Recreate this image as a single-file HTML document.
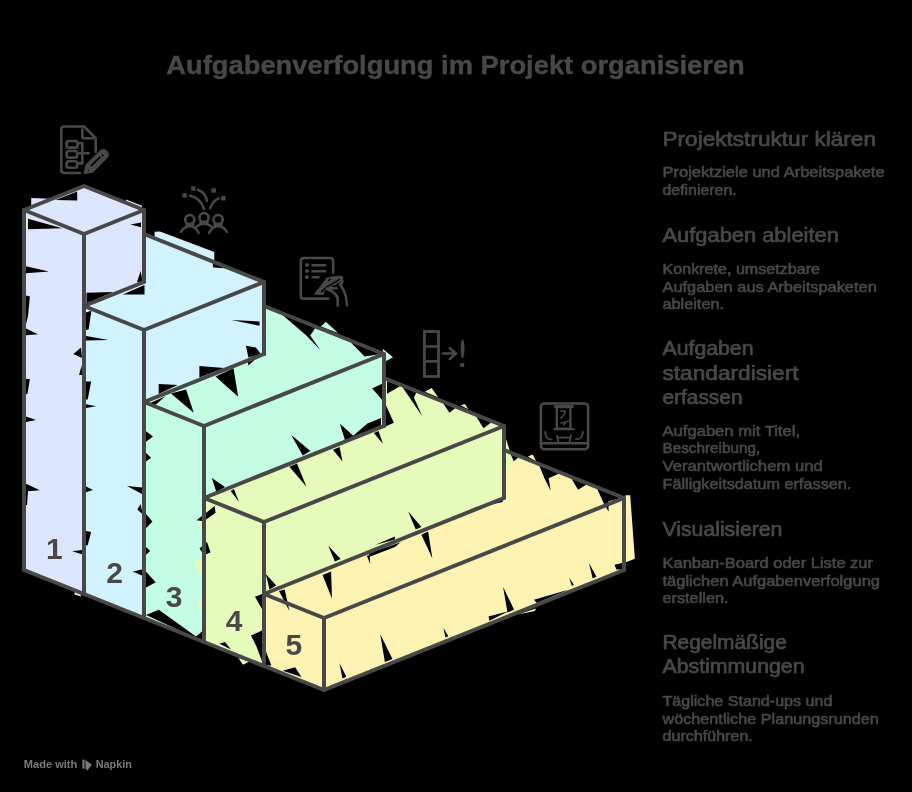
<!DOCTYPE html>
<html><head><meta charset="utf-8"><title>Aufgabenverfolgung im Projekt organisieren</title>
<style>
html,body{margin:0;padding:0;background:#000;}
svg{display:block;will-change:transform;}
text{font-family:"Liberation Sans",sans-serif;fill:#484848;}
.title{font-size:25px;font-weight:bold;stroke:#484848;stroke-width:0.4px;}
.h{font-size:20px;stroke:#484848;stroke-width:0.7px;}
.b{font-size:15px;stroke:#484848;stroke-width:0.6px;}
.num{font-size:30px;font-weight:bold;}
.foot{font-size:11px;font-weight:bold;fill:#7a7a7a;}
</style></head><body>
<svg width="912" height="792" viewBox="0 0 912 792">
<rect width="912" height="792" fill="#000"/>
<polygon points="24.0,210.0 84.0,234.0 144.0,210.0 84.0,186.0" fill="#dde6ff"/>
<polygon points="24.0,570.0 84.0,594.0 84.0,234.0 24.0,210.0" fill="#dde6ff"/>
<polygon points="84.0,234.0 144.0,210.0 144.0,282.0 84.0,306.0" fill="#dde6ff"/>
<polygon points="84.0,306.0 144.0,330.0 264.0,282.0 144.0,234.0 144.0,282.0" fill="#d1f3ff"/>
<polygon points="84.0,594.0 144.0,618.0 144.0,330.0 84.0,306.0" fill="#d1f3ff"/>
<polygon points="144.0,330.0 264.0,282.0 264.0,354.0 144.0,402.0" fill="#d1f3ff"/>
<polygon points="144.0,402.0 204.0,426.0 384.0,354.0 264.0,306.0 264.0,354.0" fill="#c3fde4"/>
<polygon points="144.0,618.0 204.0,642.0 204.0,426.0 144.0,402.0" fill="#c3fde4"/>
<polygon points="204.0,426.0 384.0,354.0 384.0,426.0 204.0,498.0" fill="#c3fde4"/>
<polygon points="204.0,498.0 264.0,522.0 504.0,426.0 384.0,378.0 384.0,426.0" fill="#e6fbb9"/>
<polygon points="204.0,642.0 264.0,666.0 264.0,522.0 204.0,498.0" fill="#e6fbb9"/>
<polygon points="264.0,522.0 504.0,426.0 504.0,498.0 264.0,594.0" fill="#e6fbb9"/>
<polygon points="264.0,594.0 324.0,618.0 624.0,498.0 504.0,450.0 504.0,498.0" fill="#fef3b3"/>
<polygon points="264.0,666.0 324.0,690.0 324.0,618.0 264.0,594.0" fill="#fef3b3"/>
<polygon points="324.0,618.0 624.0,498.0 624.0,570.0 324.0,690.0" fill="#fef3b3"/>
<polygon points="31.2,198.0 55.5,198.9 31.2,207.6" fill="#dde6ff"/>
<polygon points="26.0,212.0 30.0,213.0 30.0,218.8 26.0,218.8" fill="#dde6ff"/>
<polygon points="154.6,231.7 160.0,231.5 214.3,252.0 214.3,262.0 154.6,238.5" fill="#d1f3ff"/>
<polygon points="321.0,326.4 325.8,321.8 338.1,333.0" fill="#c3fde4"/>
<polygon points="382.6,348.7 393.0,357.2 386.4,361.0 384.0,356.0" fill="#c3fde4"/>
<polygon points="424.9,391.8 431.6,388.0 438.2,397.3" fill="#e6fbb9"/>
<polygon points="460.9,405.6 464.7,404.0 468.5,409.2" fill="#e6fbb9"/>
<polygon points="505.0,435.8 509.2,449.0 513.9,468.0 505.0,469.8" fill="#e6fbb9"/>
<polygon points="506.1,453.7 514.6,461.3 506.1,469.8" fill="#e6fbb9"/>
<polygon points="197.6,521.2 203.0,521.2 207.0,544.0 201.4,532.6" fill="#e6fbb9"/>
<polygon points="194.7,560.8 203.0,558.9 203.0,580.7 197.6,570.3" fill="#e6fbb9"/>
<polygon points="197.6,602.5 203.0,600.6 203.0,619.5" fill="#e6fbb9"/>
<polygon points="238.3,658.0 249.4,661.5 243.0,664.7" fill="#e6fbb9"/>
<polygon points="527.9,456.5 532.6,454.6 536.4,461.6" fill="#fef3b3"/>
<polygon points="625.4,495.3 630.2,495.3 634.9,558.8 625.4,562.6" fill="#fef3b3"/>
<polygon points="517.9,614.5 535.9,608.4 534.9,611.0" fill="#fef3b3"/>
<polygon points="74.5,592.0 80.9,594.6 80.9,596.4 74.5,594.4" fill="#dde6ff"/>
<polygon points="126.0,199.4 142.0,205.8 142.0,208.0 126.0,201.6" fill="#dde6ff"/>
<polygon points="55.5,199.9 77.2,191.4 77.2,200.5" fill="#000"/>
<polygon points="28.0,218.8 62.1,228.3 28.0,229.2" fill="#000"/>
<polygon points="26.0,266.2 48.8,271.5 26.0,273.2" fill="#000"/>
<polygon points="26.0,295.5 29.9,296.5 28.0,316.0 26.0,324.0" fill="#000"/>
<polygon points="130.3,224.5 141.0,222.6 141.0,227.3" fill="#000"/>
<polygon points="136.9,282.3 140.7,270.9 142.6,282.3" fill="#000"/>
<polygon points="86.5,292.7 113.2,292.1 86.5,303.6" fill="#000"/>
<polygon points="122.7,294.6 144.5,285.0 144.5,294.6" fill="#000"/>
<polygon points="86.0,312.6 91.4,310.7 88.6,329.6 86.0,330.0" fill="#000"/>
<polygon points="26.0,328.5 38.0,334.2 26.0,335.2" fill="#000"/>
<polygon points="26.0,378.7 29.9,379.1 27.4,393.9 26.0,394.0" fill="#000"/>
<polygon points="26.0,416.6 36.1,420.0 26.0,421.9" fill="#000"/>
<polygon points="73.4,354.1 81.0,347.5 82.0,357.9" fill="#000"/>
<polygon points="79.1,374.9 81.6,365.5 82.2,374.9" fill="#000"/>
<polygon points="86.0,336.1 108.5,339.9 86.0,340.5" fill="#000"/>
<polygon points="86.0,381.6 91.1,381.6 87.7,399.5 86.0,399.5" fill="#000"/>
<polygon points="86.0,404.3 96.2,406.2 86.0,408.1" fill="#000"/>
<polygon points="26.0,483.7 39.9,490.3 28.0,491.3 27.0,505.0 26.0,505.0" fill="#000"/>
<polygon points="86.0,486.5 93.0,489.9 86.0,492.2" fill="#000"/>
<polygon points="86.0,531.0 91.1,532.0 87.7,545.2 86.0,545.2" fill="#000"/>
<polygon points="72.1,551.3 82.0,550.0 82.0,554.3" fill="#000"/>
<polygon points="127.0,486.1 142.0,487.5 142.0,494.1" fill="#000"/>
<polygon points="137.3,509.6 140.7,503.9 142.4,514.0" fill="#000"/>
<polygon points="132.7,571.4 142.0,569.5 142.0,575.5" fill="#000"/>
<polygon points="146.0,431.3 153.0,436.4 146.0,441.7" fill="#000"/>
<polygon points="146.0,453.1 151.1,457.8 146.0,461.6" fill="#000"/>
<polygon points="146.0,514.0 152.4,521.6 146.0,528.2" fill="#000"/>
<polygon points="146.0,547.1 150.2,550.9 146.0,554.7" fill="#000"/>
<polygon points="146.0,571.7 155.8,582.2 146.0,587.5" fill="#000"/>
<polygon points="146.0,615.0 158.8,609.7 196.0,636.5 202.0,631.5 202.4,641.0" fill="#000"/>
<polygon points="212.4,263.0 228.5,268.6 213.3,267.6" fill="#000"/>
<polygon points="231.3,320.1 259.5,321.4 259.5,325.8" fill="#000"/>
<polygon points="245.9,345.7 255.9,347.6 261.0,354.2 248.4,357.6" fill="#000"/>
<polygon points="158.7,384.0 177.6,384.9 158.7,394.0" fill="#000"/>
<polygon points="199.4,366.0 224.0,367.9 199.4,377.4" fill="#000"/>
<polygon points="171.0,393.4 186.1,389.6 193.7,412.8" fill="#000"/>
<polygon points="146.4,404.8 165.3,396.3 155.8,404.8" fill="#000"/>
<polygon points="215.5,376.4 233.5,368.2 238.2,396.7" fill="#000"/>
<polygon points="247.7,362.2 256.2,358.4 248.6,365.6" fill="#000"/>
<polygon points="281.3,314.0 315.3,328.0 310.2,335.5 320.1,349.7 305.8,335.0" fill="#000"/>
<polygon points="350.4,342.0 381.0,354.0 364.6,356.6" fill="#000"/>
<polygon points="372.2,388.5 382.0,383.8 382.0,399.8" fill="#000"/>
<polygon points="340.0,424.1 353.2,435.8 367.4,423.5 381.0,418.2 381.0,425.4 345.0,440.2" fill="#000"/>
<polygon points="357.0,434.1 368.4,423.7 381.0,418.0 381.0,425.0" fill="#000"/>
<polygon points="211.8,478.0 225.0,487.1 216.4,492.0" fill="#000"/>
<polygon points="291.3,435.0 310.3,451.1 302.7,455.5" fill="#000"/>
<polygon points="340.2,424.2 350.0,433.1 345.3,438.4" fill="#000"/>
<polygon points="386.0,405.5 393.9,422.7 386.0,426.3" fill="#000"/>
<polygon points="373.8,432.9 378.5,431.0 382.9,443.7" fill="#000"/>
<polygon points="387.0,381.0 400.3,386.0 387.0,393.7" fill="#000"/>
<polygon points="402.2,386.8 416.4,392.6 413.9,397.5 422.1,415.9" fill="#000"/>
<polygon points="442.9,403.0 455.2,408.0 449.5,412.7" fill="#000"/>
<polygon points="476.1,416.4 491.2,422.4 483.6,428.2" fill="#000"/>
<polygon points="238.9,501.9 230.7,490.9 233.9,489.0" fill="#000"/>
<polygon points="306.5,486.7 289.4,466.8 297.0,463.6" fill="#000"/>
<polygon points="342.5,461.6 333.0,449.8 339.6,447.0" fill="#000"/>
<polygon points="204.0,514.5 214.6,506.1 215.6,512.7 204.0,521.0" fill="#000"/>
<polygon points="196.6,520.3 202.0,516.0 202.0,521.0" fill="#000"/>
<polygon points="199.5,548.5 207.0,541.9 210.5,552.3 204.2,555.2" fill="#000"/>
<polygon points="255.0,596.8 262.0,594.0 262.0,609.1" fill="#000"/>
<polygon points="251.0,635.6 262.0,630.5 262.0,661.2 256.3,646.1" fill="#000"/>
<polygon points="219.4,643.8 225.0,641.9 231.0,649.5" fill="#000"/>
<polygon points="408.2,511.6 421.4,527.1 415.8,529.5" fill="#000"/>
<polygon points="265.8,574.1 276.2,585.5 269.5,589.6" fill="#000"/>
<polygon points="328.3,545.7 340.6,558.9 334.9,561.4" fill="#000"/>
<polygon points="375.0,544.9 394.9,536.4 394.9,539.6" fill="#000"/>
<polygon points="469.4,509.6 502.6,498.6 502.6,502.0" fill="#000"/>
<polygon points="432.4,558.4 421.4,534.7 428.1,531.5" fill="#000"/>
<polygon points="289.4,611.0 279.0,591.1 284.7,589.6" fill="#000"/>
<polygon points="332.0,598.7 322.6,575.0 331.1,571.6" fill="#000"/>
<polygon points="368.4,553.6 400.6,542.3 395.0,547.0 370.3,556.5" fill="#000"/>
<polygon points="370.2,564.2 366.9,555.7 369.7,555.0" fill="#000"/>
<polygon points="510.8,454.4 518.4,457.4 513.7,461.3" fill="#000"/>
<polygon points="539.2,465.4 559.1,473.4 548.7,478.3 550.6,490.6 544.9,479.2" fill="#000"/>
<polygon points="571.4,478.4 586.6,484.4 578.1,489.7" fill="#000"/>
<polygon points="597.0,488.6 620.7,498.0 608.4,501.6 608.6,511.6 603.6,502.9" fill="#000"/>
<polygon points="266.0,651.7 271.4,665.6 266.0,665.6" fill="#000"/>
<polygon points="282.8,670.7 295.1,667.3 301.4,677.0" fill="#000"/>
<polygon points="339.4,663.1 346.3,676.7 342.5,678.6" fill="#000"/>
<polygon points="380.2,634.3 392.5,658.9 384.9,662.0" fill="#000"/>
<polygon points="443.3,627.7 448.4,636.2 445.5,637.4" fill="#000"/>
<polygon points="503.1,587.0 514.1,609.7 507.5,612.4" fill="#000"/>
<polygon points="488.5,616.5 508.4,611.2 489.5,620.7" fill="#000"/>
<polygon points="534.0,599.8 569.0,589.4 536.8,602.9" fill="#000"/>
<polygon points="569.0,577.5 573.8,584.7 571.9,585.9" fill="#000"/>
<polygon points="588.9,562.9 596.5,576.7 592.7,578.4" fill="#000"/>
<polygon points="614.5,564.8 622.0,562.9 622.0,569.5 616.4,569.5" fill="#000"/>
<polyline points="24.0,210.0 84.0,234.0 144.0,210.0 84.0,186.0 24.0,210.0" fill="none" stroke="#484848" stroke-width="4" stroke-linecap="round" stroke-linejoin="round"/>
<polyline points="24.0,210.0 24.0,570.0" fill="none" stroke="#484848" stroke-width="4" stroke-linecap="round" stroke-linejoin="round"/>
<polyline points="84.0,234.0 84.0,594.0" fill="none" stroke="#484848" stroke-width="4" stroke-linecap="round" stroke-linejoin="round"/>
<polyline points="24.0,570.0 84.0,594.0" fill="none" stroke="#484848" stroke-width="4" stroke-linecap="round" stroke-linejoin="round"/>
<polyline points="144.0,210.0 144.0,282.0" fill="none" stroke="#484848" stroke-width="4" stroke-linecap="round" stroke-linejoin="round"/>
<polyline points="84.0,306.0 144.0,282.0" fill="none" stroke="#484848" stroke-width="4" stroke-linecap="round" stroke-linejoin="round"/>
<polyline points="84.0,306.0 144.0,330.0 264.0,282.0 144.0,234.0" fill="none" stroke="#484848" stroke-width="4" stroke-linecap="round" stroke-linejoin="round"/>
<polyline points="144.0,330.0 144.0,618.0" fill="none" stroke="#484848" stroke-width="4" stroke-linecap="round" stroke-linejoin="round"/>
<polyline points="84.0,594.0 144.0,618.0" fill="none" stroke="#484848" stroke-width="4" stroke-linecap="round" stroke-linejoin="round"/>
<polyline points="264.0,282.0 264.0,354.0" fill="none" stroke="#484848" stroke-width="4" stroke-linecap="round" stroke-linejoin="round"/>
<polyline points="144.0,402.0 264.0,354.0" fill="none" stroke="#484848" stroke-width="4" stroke-linecap="round" stroke-linejoin="round"/>
<polyline points="144.0,402.0 204.0,426.0 384.0,354.0 264.0,306.0" fill="none" stroke="#484848" stroke-width="4" stroke-linecap="round" stroke-linejoin="round"/>
<polyline points="204.0,426.0 204.0,642.0" fill="none" stroke="#484848" stroke-width="4" stroke-linecap="round" stroke-linejoin="round"/>
<polyline points="144.0,618.0 204.0,642.0" fill="none" stroke="#484848" stroke-width="4" stroke-linecap="round" stroke-linejoin="round"/>
<polyline points="384.0,354.0 384.0,426.0" fill="none" stroke="#484848" stroke-width="4" stroke-linecap="round" stroke-linejoin="round"/>
<polyline points="204.0,498.0 384.0,426.0" fill="none" stroke="#484848" stroke-width="4" stroke-linecap="round" stroke-linejoin="round"/>
<polyline points="204.0,498.0 264.0,522.0 504.0,426.0 384.0,378.0" fill="none" stroke="#484848" stroke-width="4" stroke-linecap="round" stroke-linejoin="round"/>
<polyline points="264.0,522.0 264.0,666.0" fill="none" stroke="#484848" stroke-width="4" stroke-linecap="round" stroke-linejoin="round"/>
<polyline points="204.0,642.0 264.0,666.0" fill="none" stroke="#484848" stroke-width="4" stroke-linecap="round" stroke-linejoin="round"/>
<polyline points="504.0,426.0 504.0,498.0" fill="none" stroke="#484848" stroke-width="4" stroke-linecap="round" stroke-linejoin="round"/>
<polyline points="264.0,594.0 504.0,498.0" fill="none" stroke="#484848" stroke-width="4" stroke-linecap="round" stroke-linejoin="round"/>
<polyline points="264.0,594.0 324.0,618.0 624.0,498.0 504.0,450.0" fill="none" stroke="#484848" stroke-width="4" stroke-linecap="round" stroke-linejoin="round"/>
<polyline points="324.0,618.0 324.0,690.0" fill="none" stroke="#484848" stroke-width="4" stroke-linecap="round" stroke-linejoin="round"/>
<polyline points="264.0,666.0 324.0,690.0" fill="none" stroke="#484848" stroke-width="4" stroke-linecap="round" stroke-linejoin="round"/>
<polyline points="624.0,498.0 624.0,570.0" fill="none" stroke="#484848" stroke-width="4" stroke-linecap="round" stroke-linejoin="round"/>
<polyline points="324.0,690.0 624.0,570.0" fill="none" stroke="#484848" stroke-width="4" stroke-linecap="round" stroke-linejoin="round"/>
<text x="54.4" y="558.8" class="num" text-anchor="middle">1</text>
<text x="114.6" y="582.6" class="num" text-anchor="middle">2</text>
<text x="174.2" y="606.8" class="num" text-anchor="middle">3</text>
<text x="234.2" y="630.7" class="num" text-anchor="middle">4</text>
<text x="293.9" y="654.5" class="num" text-anchor="middle">5</text>
<text x="166.3" y="74" class="title" textLength="578.5" lengthAdjust="spacingAndGlyphs">Aufgabenverfolgung im Projekt organisieren</text>
<text x="662.5" y="146.4" class="h" textLength="213.5" lengthAdjust="spacingAndGlyphs">Projektstruktur klären</text>
<text x="662.5" y="177.3" class="b" textLength="222.1" lengthAdjust="spacingAndGlyphs">Projektziele und Arbeitspakete</text>
<text x="662.5" y="195.3" class="b" textLength="74.2" lengthAdjust="spacingAndGlyphs">definieren.</text>
<text x="662.5" y="242.2" class="h" textLength="176.3" lengthAdjust="spacingAndGlyphs">Aufgaben ableiten</text>
<text x="662.5" y="274.4" class="b" textLength="157.5" lengthAdjust="spacingAndGlyphs">Konkrete, umsetzbare</text>
<text x="662.5" y="292.0" class="b" textLength="214.3" lengthAdjust="spacingAndGlyphs">Aufgaben aus Arbeitspaketen</text>
<text x="662.5" y="308.8" class="b" textLength="61.5" lengthAdjust="spacingAndGlyphs">ableiten.</text>
<text x="662.5" y="355.0" class="h" textLength="91.0" lengthAdjust="spacingAndGlyphs">Aufgaben</text>
<text x="662.5" y="380.0" class="h" textLength="136.0" lengthAdjust="spacingAndGlyphs">standardisiert</text>
<text x="662.5" y="403.5" class="h" textLength="80.0" lengthAdjust="spacingAndGlyphs">erfassen</text>
<text x="662.5" y="435.7" class="b" textLength="137.5" lengthAdjust="spacingAndGlyphs">Aufgaben mit Titel,</text>
<text x="662.5" y="453.3" class="b" textLength="97.8" lengthAdjust="spacingAndGlyphs">Beschreibung,</text>
<text x="662.5" y="471.0" class="b" textLength="160.2" lengthAdjust="spacingAndGlyphs">Verantwortlichem und</text>
<text x="662.5" y="488.7" class="b" textLength="188.9" lengthAdjust="spacingAndGlyphs">Fälligkeitsdatum erfassen.</text>
<text x="662.5" y="536.2" class="h" textLength="119.9" lengthAdjust="spacingAndGlyphs">Visualisieren</text>
<text x="662.5" y="567.9" class="b" textLength="210.5" lengthAdjust="spacingAndGlyphs">Kanban-Board oder Liste zur</text>
<text x="662.5" y="585.6" class="b" textLength="217.5" lengthAdjust="spacingAndGlyphs">täglichen Aufgabenverfolgung</text>
<text x="662.5" y="603.3" class="b" textLength="66.0" lengthAdjust="spacingAndGlyphs">erstellen.</text>
<text x="662.5" y="649.2" class="h" textLength="124.3" lengthAdjust="spacingAndGlyphs">Regelmäßige</text>
<text x="662.5" y="673.2" class="h" textLength="142.0" lengthAdjust="spacingAndGlyphs">Abstimmungen</text>
<text x="662.5" y="706.3" class="b" textLength="169.9" lengthAdjust="spacingAndGlyphs">Tägliche Stand-ups und</text>
<text x="662.5" y="723.6" class="b" textLength="216.3" lengthAdjust="spacingAndGlyphs">wöchentliche Planungsrunden</text>
<text x="662.5" y="741.0" class="b" textLength="90.3" lengthAdjust="spacingAndGlyphs">durchführen.</text>
<text x="23.8" y="768.4" class="foot" textLength="53.5" lengthAdjust="spacingAndGlyphs">Made with</text>
<text x="95.8" y="768.4" class="foot" textLength="36" lengthAdjust="spacingAndGlyphs">Napkin</text>
<g fill="none" stroke="#484848" stroke-width="2.6" stroke-linecap="round" stroke-linejoin="round">
<path d="M80,173 H64.3 Q61.3,173 61.3,170 V129.5 Q61.3,126.5 64.3,126.5 H84 L95.7,138.2 V152"/>
<path d="M82.3,129.5 V136.2 Q82.3,138.2 84.3,138.2 H93"/>
<rect x="66.6" y="141" width="11" height="6.6" rx="2.2"/>
<rect x="66.6" y="151" width="10.6" height="6.6" rx="2.2"/>
<rect x="66.6" y="161.2" width="10.6" height="6.6" rx="2.2"/>
<path d="M77.6,143.2 H82.3 V163.4 H77.2 M77.2,153.3 H88.6"/>
<path d="M85,172.8 L86.6,165.4 L100.6,151.6 Q103.6,149 106.2,151.7 Q108.8,154.6 106,157.6 L92.4,171.4 Z" fill="#484848" stroke-width="2.6"/>
<path d="M91.4,165.6 L99.8,157.4" stroke="#000" stroke-width="1.7"/>
<circle cx="102.6" cy="155.5" r="1" fill="#000" stroke="none"/>
<circle cx="88.5" cy="170.4" r="0.7" fill="#000" stroke="none"/>
<rect x="182.4" y="193.2" width="4.4" height="4.4" fill="#484848" stroke="none"/>
<rect x="191.2" y="186.3" width="4.4" height="4.4" fill="#484848" stroke="none"/>
<rect x="211.5" y="188.3" width="4.4" height="4.4" fill="#484848" stroke="none"/>
<rect x="221.2" y="196.0" width="4.4" height="4.4" fill="#484848" stroke="none"/>
<path d="M190,195.8 Q200.5,198 204,209"/>
<path d="M198,189.8 Q206,193 206.8,201"/>
<path d="M218.8,198.4 Q212.5,201 210.2,208.2"/>
<circle cx="189.8" cy="219.6" r="4.6" stroke-width="2.7"/>
<circle cx="204" cy="217.6" r="4.6" stroke-width="2.7"/>
<circle cx="218.1" cy="219.6" r="4.6" stroke-width="2.7"/>
<path d="M181,231.8 Q184.5,226.3 189.8,226 Q195.5,226.3 198.6,232.8" stroke-width="2.6"/>
<path d="M196.8,226.6 Q200,223.8 204,223.8 Q208,223.8 211.2,226.6" stroke-width="2.6"/>
<path d="M209,232.8 Q212.4,226.3 218.1,226 Q223.5,226.3 226.8,231.8" stroke-width="2.6"/>
<path d="M186.5,225.2 H193.2 M200.6,222.8 H207.4 M214.8,225.2 H221.4" stroke-width="3"/>
<path d="M328.2,298.6 H303.4 Q300.8,298.6 300.8,296 V261 Q300.8,258 303.8,258 H330.2 Q333.2,258 333.2,261 V272.6"/>
<circle cx="307" cy="265" r="1.5" fill="#484848" stroke-width="1"/>
<circle cx="307" cy="271" r="1.5" fill="#484848" stroke-width="1"/>
<circle cx="307" cy="277.1" r="1.5" fill="#484848" stroke-width="1"/>
<path d="M312.6,265.3 H325.2 M312.6,271.2 H325.2 M312.6,277.2 H318.4"/>
<path d="M315,294 L327,278.6 Q335,276.2 341.4,276.6 Q343.6,278 342,280.4 L324.6,289.4 L322.6,294.2 Z" fill="#484848" stroke-width="1.6"/>
<path d="M321.6,291.6 L327.4,286.6 L339.2,279.6" stroke="#000" stroke-width="1.5"/>
<path d="M328.6,280.6 L330,279.2" stroke="#000" stroke-width="1.4"/>
<path d="M326.6,288.8 Q331,290.6 333.8,292.8 Q337.7,296 337.7,299 V305.4"/>
<path d="M327.6,288.2 H336.4"/>
<path d="M340.2,284.6 Q344.6,290.6 346,296.8 L347,305.4"/>
<path d="M342,280.4 Q343.4,282.4 340.2,284.6"/>
<rect x="424.4" y="331.5" width="14.1" height="45" stroke-width="2.8" stroke-linejoin="miter"/>
<path d="M424.4,346.5 H438.5 M424.4,361.4 H438.5" stroke-width="2.6"/>
<path d="M443,353.5 H455.6 M449.8,348 L456,353.5 L449.8,359" stroke-width="2.6" stroke-linejoin="miter"/>
<path d="M462.5,340.4 Q464.8,348 462.5,357.4 Q460.6,348 462.5,340.4 Z" fill="#484848" stroke-width="1.8"/>
<rect x="460.2" y="363.2" width="4" height="3.6" fill="#484848" stroke="none"/>
<rect x="540.9" y="403.4" width="47.2" height="45.9" rx="3.4" stroke-width="2.5"/>
<path d="M541.4,443.2 H587.8" stroke-width="2.6"/>
<rect x="556.8" y="407" width="13.6" height="21.6" stroke-width="2.4"/>
<path d="M555.4,406.6 H572.4" stroke-width="3"/>
<path d="M554.6,429.2 H573.6" stroke-width="2.2"/>
<path d="M561.2,411 Q564.4,411.6 565.2,410.8 Q564.8,415.6 561,418" stroke-width="1.6"/>
<path d="M560.8,423 L564.6,422.4 L568.6,420.6 M564,425 L565.4,422.6" stroke-width="1.5"/>
<path d="M545,431.8 Q545.6,439.8 551.6,439.6" stroke-width="1.8"/>
<path d="M583,431.8 Q582.4,439.4 576.2,439.2" stroke-width="1.8"/>
<path d="M557.2,436 L558.2,441.6 M571,435.2 L569.6,441.6 M558,437.6 H570.4" stroke-width="1.8"/>
</g>
<g fill="#7a7a7a"><rect x="82.4" y="759.6" width="2.2" height="9"/><path d="M85.4,760 L91.8,764.4 L87.4,770.6 L85.6,768.4 Z"/></g>
</svg>
</body></html>
